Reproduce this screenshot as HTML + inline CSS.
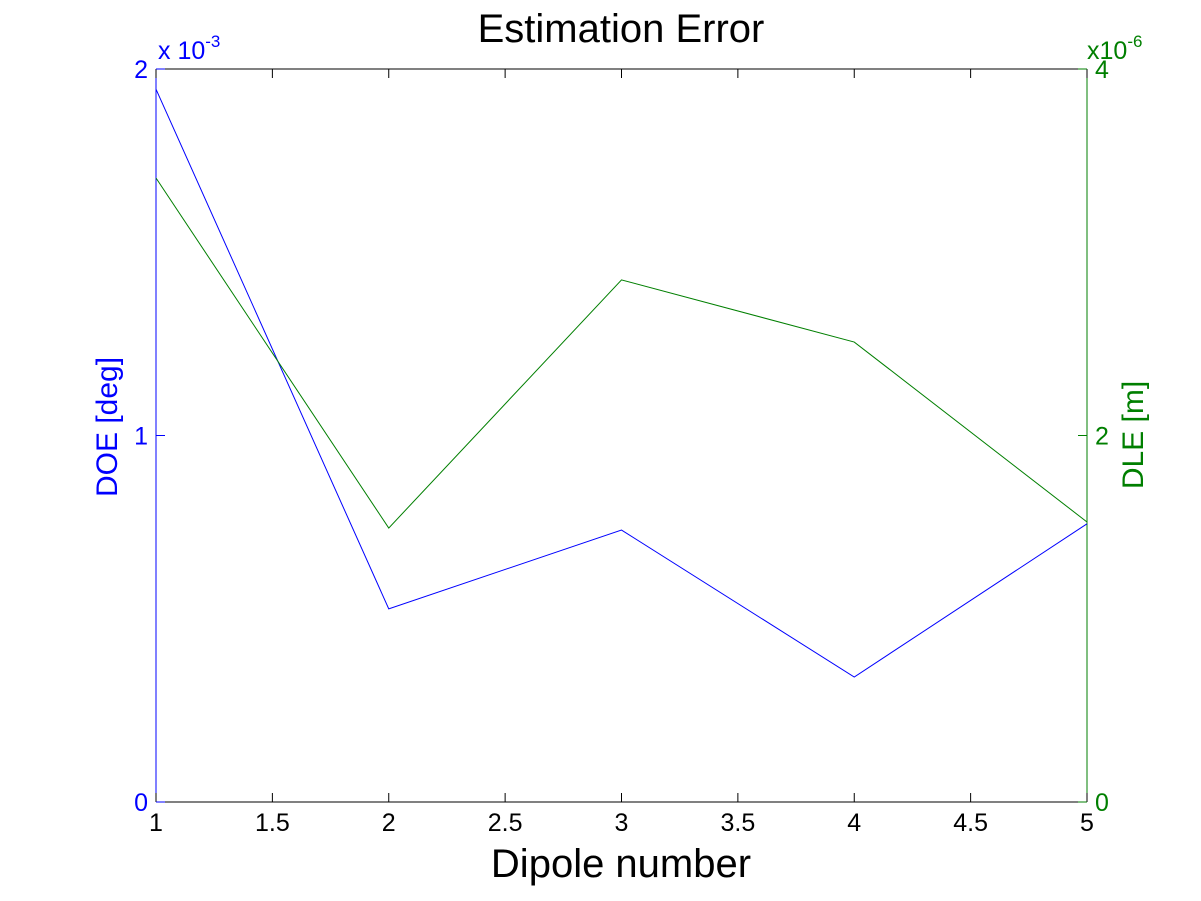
<!DOCTYPE html>
<html><head><meta charset="utf-8"><style>
body{margin:0;background:#fff;}
svg{display:block;font-family:"Liberation Sans",Arial,sans-serif;}
</style></head><body>
<svg id="chart" width="1201" height="901"></svg>
<script>
const categories=[1,2,3,4,5];
const doeValues=[1.945,0.527,0.742,0.341,0.759];
const dleValues=[3.405,1.495,2.849,2.510,1.528];
const xTicks=["1","1.5","2","2.5","3","3.5","4","4.5","5"];
const xTickVals=[1,1.5,2,2.5,3,3.5,4,4.5,5];
const leftTicks=[0,1,2];
const rightTicks=[0,2,4];
const L=156,R=1087,T=69,B=802;
const xs=v=>L+(v-1)/4*(R-L);
const yl=v=>B-v/2*(B-T);
const yr=v=>B-v/4*(B-T);
const svg=document.getElementById('chart');
const NS='http://www.w3.org/2000/svg';
function mk(tag,attrs,parent){const e=document.createElementNS(NS,tag);for(const k in attrs)e.setAttribute(k,attrs[k]);(parent||svg).appendChild(e);return e;}
let e;
e=mk('line',{x1:L,y1:T,x2:R,y2:T,stroke:'#000'});


e=mk('line',{x1:L,y1:B,x2:R,y2:B,stroke:'#000'});


e=mk('line',{x1:L,y1:T,x2:L,y2:B,stroke:'#0000ff'});


e=mk('line',{x1:R,y1:T,x2:R,y2:B,stroke:'#007f00'});


xTickVals.forEach((v,i)=>{
  const x=xs(v);
  let t=mk('line',{x1:x,y1:B,x2:x,y2:B-9,stroke:'#000'});
  
  
  t=mk('line',{x1:x,y1:T,x2:x,y2:T+9,stroke:'#000'});
  
  
  const tx=mk('text',{x:x,y:B+29,'text-anchor':'middle','font-size':25,fill:'#000'});
  tx.textContent=xTicks[i];
  
  
});
leftTicks.forEach(v=>{
  const y=yl(v);
  let t=mk('line',{x1:L,y1:y,x2:L+9,y2:y,stroke:'#0000ff'});
  
  
  const tx=mk('text',{x:L-8,y:y+9,'text-anchor':'end','font-size':25,fill:'#0000ff'});
  tx.textContent=v;
  
  
});
rightTicks.forEach(v=>{
  const y=yr(v);
  let t=mk('line',{x1:R,y1:y,x2:R-9,y2:y,stroke:'#007f00'});
  
  
  const tx=mk('text',{x:R+8,y:y+9,'text-anchor':'start','font-size':25,fill:'#007f00'});
  tx.textContent=v;
  
  
});
e=mk('polyline',{points:categories.map((c,i)=>xs(c)+','+yl(doeValues[i])).join(' '),fill:'none',stroke:'#0000ff','stroke-width':1});


e=mk('polyline',{points:categories.map((c,i)=>xs(c)+','+yr(dleValues[i])).join(' '),fill:'none',stroke:'#007f00','stroke-width':1});


</script>
<svg style="position:absolute;left:0;top:0" width="1201" height="901">
<text x="621" y="42" text-anchor="middle" font-size="40" fill="#000">Estimation Error</text>
<text x="621" y="877" text-anchor="middle" font-size="40" fill="#000">Dipole number</text>
<text transform="translate(117,427) rotate(-90)" text-anchor="middle" font-size="30" fill="#0000ff">DOE [deg]</text>
<text transform="translate(1143,435) rotate(-90)" text-anchor="middle" font-size="30" fill="#007f00">DLE [m]</text>
<text x="158" y="59" font-size="25" fill="#0000ff">x 10<tspan dy="-12" font-size="17">-3</tspan></text>
<text x="1087" y="59" font-size="25" fill="#007f00">x10<tspan dy="-12" font-size="17">-6</tspan></text>
</svg>
</body></html>
